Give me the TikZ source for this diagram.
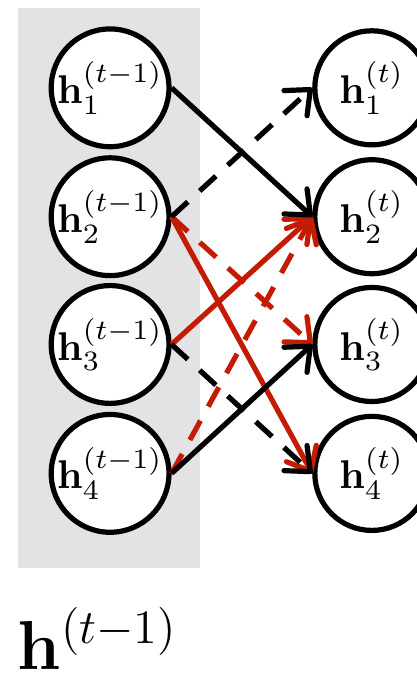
\documentclass[tikz,border=0pt]{standalone}
\usepackage{amsmath}
\usepackage{amssymb}
\usepackage{tikz}
\usetikzlibrary{arrows.meta}

\definecolor{hred}{RGB}{196,28,4}
\definecolor{hgray}{RGB}{227,227,230}

\begin{document}
\begin{tikzpicture}[
  >={Straight Barb[length=5pt,width=8.5pt,round]},
  unit/.style={circle,draw,line width=1.3pt,fill=white,minimum size=1cm,inner sep=0pt},
  link/.style={->,line width=1.3pt},
  dlink/.style={link,dash pattern=on 5.5pt off 4pt}
]

% Fix the page size
\useasboundingbox (0,0) rectangle (3.65,-5.90);

% Draw the shaded column
\fill[hgray] (0.16,-0.07) rectangle (1.75,-4.98);

% Draw the units
\foreach \i/\y in {1/-0.77,2/-1.90,3/-3.02,4/-4.15} {
  \node[unit] (p\i) at (0.965,\y) {$\mathbf{h}_{\i}^{(t-1)}$};
  \node[unit] (c\i) at (3.26,\y) {$\mathbf{h}_{\i}^{(t)}$};
}

% Draw the red links
\draw[link,hred] (p2.east) -- (c4.west);
\draw[dlink,hred] (p2.east) -- (c3.west);
\draw[link,hred] (p3.east) -- (c2.west);
\draw[dlink,hred] (p4.east) -- (c2.west);

% Draw the black links
\draw[link] (p1.east) -- (c2.west);
\draw[dlink] (p2.east) -- (c1.west);
\draw[dlink] (p3.east) -- (c4.west);
\draw[link] (p4.east) -- (c3.west);

% Label for the column
\node[anchor=base west,inner sep=0pt] (lbl) at (0.15,-5.865)
  {\fontsize{18pt}{21pt}\selectfont $\mathbf{h}^{(t-1)}$};

\end{tikzpicture}
\end{document}
